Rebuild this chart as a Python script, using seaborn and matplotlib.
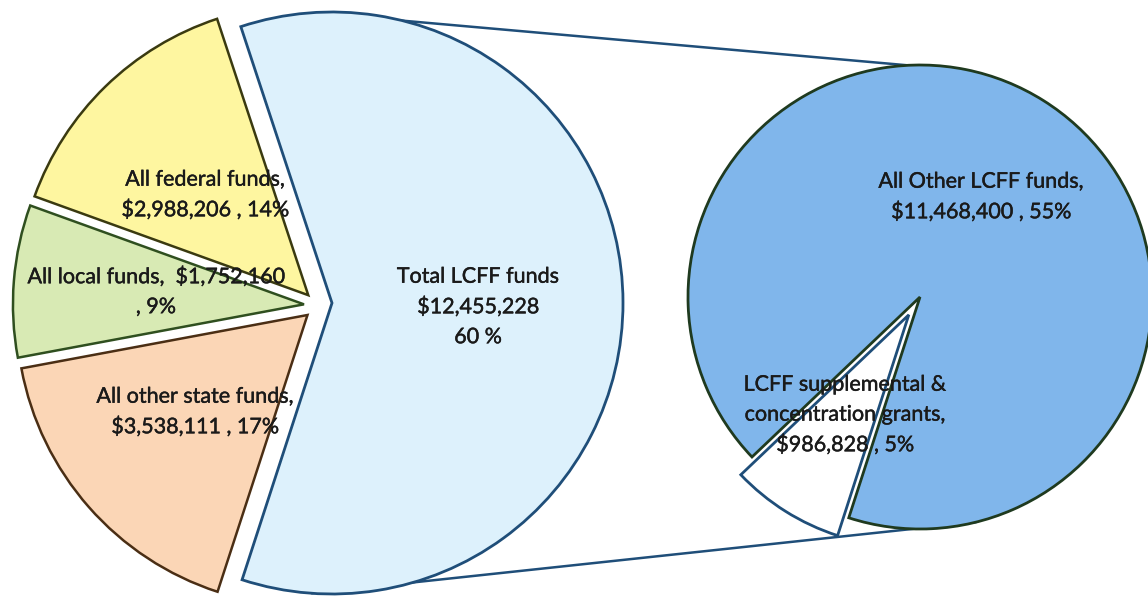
import matplotlib
matplotlib.use("Agg")
import matplotlib.pyplot as plt
import matplotlib.patheffects as pe
import seaborn as sns
import numpy as np

# ---- data ----
main_names = ["Total LCFF funds", "All federal funds", "All local funds", "All other state funds"]
main_values = [12455228, 2988206, 1752160, 3538111]
main_pcts = [60, 14, 9, 17]
main_colors = ["#DDF1FC", "#FEF6A0", "#D8EAB4", "#FBD6B6"]
main_edges = ["#1F4E79", "#3A3A10", "#2F4F1F", "#4A2E14"]

sub_names = ["LCFF supplemental & concentration grants", "All Other LCFF funds"]
sub_values = [986828, 11468400]
sub_pcts = [5, 55]
sub_colors = ["#FFFFFF", "#80B6EB"]
sub_edges = ["#1F4E79", "#1F3A1F"]

labels_main = [
    "Total LCFF funds\n$12,455,228\n60 %",
    "All federal funds,\n$2,988,206 , 14%",
    "All local funds,  $1,752,160\n, 9%",
    "All other state funds,\n$3,538,111 , 17%",
]
labels_sub = [
    "LCFF supplemental &\nconcentration grants,\n$986,828 , 5%",
    "All Other LCFF funds,\n$11,468,400 , 55%",
]

sns.set_theme(style="white")
plt.rcParams["font.family"] = ["Lato", "DejaVu Sans"]

W, H = 1148, 597
fig = plt.figure(figsize=(W / 100, H / 100), dpi=100)
ax = fig.add_axes([0, 0, 1, 1])

# geometry (pixel-like data units, y up)
c_main = (332, 294)
r_main = 291
c_sub = (920, 300)
r_sub = 232
start_main = -108
start_sub = 223.6

# LCFF wedge
w1, _ = ax.pie(main_values, center=c_main, radius=r_main, startangle=start_main,
               colors=main_colors, wedgeprops=dict(linewidth=2))
for i, w in enumerate(w1):
    w.set_edgecolor(main_edges[i])
    w.set_visible(i == 0)

# other main wedges, shifted left and slightly exploded (explode in data units)
w2, _ = ax.pie(main_values, center=(c_main[0] - 13.7, c_main[1] - 2.5), radius=r_main,
               startangle=start_main, colors=main_colors,
               explode=[0, 14.4, 14.4, 14.4], wedgeprops=dict(linewidth=1.8))
for i, w in enumerate(w2):
    w.set_edgecolor(main_edges[i])
    w.set_visible(i != 0)

# secondary pie
w3, _ = ax.pie(sub_values, center=c_sub, radius=r_sub, startangle=start_sub,
               colors=sub_colors, explode=[21, 0], wedgeprops=dict(linewidth=2))
for i, w in enumerate(w3):
    w.set_edgecolor(sub_edges[i])
w3[0].set_zorder(3)

# connector lines
def pt(c, r, a):
    return c[0] + r * np.cos(np.radians(a)), c[1] + r * np.sin(np.radians(a))

p1 = pt(c_main, r_main, 76); p2 = pt(c_sub, r_sub, 93)
ax.plot([p1[0], p2[0]], [p1[1], p2[1]], color="#1F4E79", lw=1.8, zorder=0.5)
p3 = pt(c_main, r_main, -94); p4 = pt(c_sub, r_sub, -76)
ax.plot([p3[0], p4[0]], [p3[1], p4[1]], color="#1F4E79", lw=1.8, zorder=0.5)

# labels
txt_kw = dict(ha="center", va="center", fontsize=15.5, color="#1a1a1a", zorder=5,
              linespacing=1.62,
              path_effects=[pe.withStroke(linewidth=0.3, foreground="#1a1a1a")])
ax.text(478, 290, labels_main[0], **txt_kw)
ax.text(205, 402, labels_main[1], **txt_kw)
ax.text(156, 305, labels_main[2], **txt_kw)
ax.text(195, 185, labels_main[3], **txt_kw)
ax.text(845, 182, labels_sub[0], **txt_kw)
ax.text(981, 400, labels_sub[1], **txt_kw)

ax.set_xlim(0, W)
ax.set_ylim(0, H)
ax.set_aspect("equal")
ax.axis("off")
fig.savefig("out.png", dpi=100, facecolor="white")
